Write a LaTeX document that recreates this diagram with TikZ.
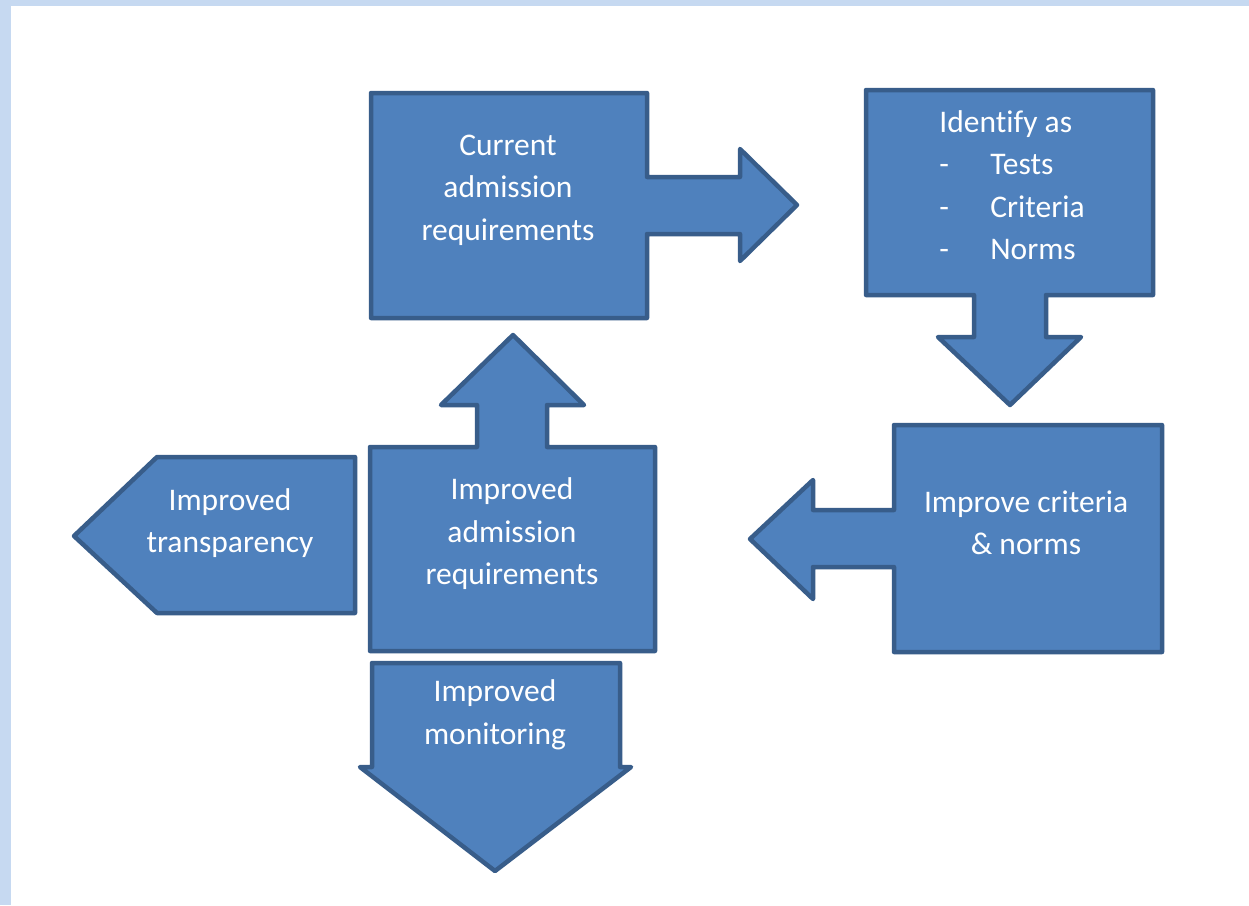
\documentclass[tikz,border=0pt]{standalone}
\usepackage{fontspec}
\setmainfont{Carlito}[Ligatures=NoCommon]
\definecolor{boxfill}{HTML}{4F81BD}
\definecolor{boxline}{HTML}{385D8A}
\definecolor{framebg}{HTML}{C6D9F1}

\begin{document}
\begin{tikzpicture}[x=1pt, y=-1pt,
   block/.style={fill=boxfill, draw=boxline, line width=4.5pt, line join=round},
   txt/.style={text=white, align=center, font=\fontsize{31.5}{42.5}\selectfont}]
   \fill[framebg] (0,0) rectangle (1249,905);
   \fill[white] (11,6) rectangle (1249,905);
   \useasboundingbox (0,0) rectangle (1249,905);

   \draw[block] (371,93) -- (647,93) -- (647,177) -- (740,177) -- (740,149) -- (797,205)
      -- (740,261) -- (740,234) -- (647,234) -- (647,318) -- (371,318) -- cycle;
   \draw[block] (866,90) -- (1153,90) -- (1153,295) -- (1046,295) -- (1046,337) -- (1081,337)
      -- (1010,405) -- (938,337) -- (974,337) -- (974,295) -- (866,295) -- cycle;
   \draw[block] (894,425) -- (1162,425) -- (1162,652) -- (894,652) -- (894,567) -- (813,567)
      -- (813,599) -- (750,539) -- (813,480) -- (813,510) -- (894,510) -- cycle;
   \draw[block] (370,447) -- (477,447) -- (477,405) -- (441,405) -- (513,335) -- (584,405)
      -- (547,405) -- (547,447) -- (655,447) -- (655,651) -- (370,651) -- cycle;
   \draw[block] (355,457) -- (355,613) -- (157,613) -- (74,536) -- (157,457) -- cycle;
   \draw[block] (372,663) -- (620,663) -- (620,767) -- (631,767) -- (495,871) -- (360,767)
      -- (372,767) -- cycle;

   \node[txt] (current) at (508,190) {Current\\admission\\requirements};
   \node[txt, align=left] (identify) at (1012,185)
      {Identify as\\\makebox[51pt][l]{-}Tests\\\makebox[51pt][l]{-}Criteria\\\makebox[51pt][l]{-}Norms};
   \node[txt] (criteria) at (1026,523) {Improve criteria\\\& norms};
   \node[txt] (improved) at (512,534) {Improved\\admission\\requirements};
   \node[txt] (transparency) at (230,523) {Improved\\transparency};
   \node[txt] (monitoring) at (495,715) {Improved\\monitoring};
\end{tikzpicture}
\end{document}
